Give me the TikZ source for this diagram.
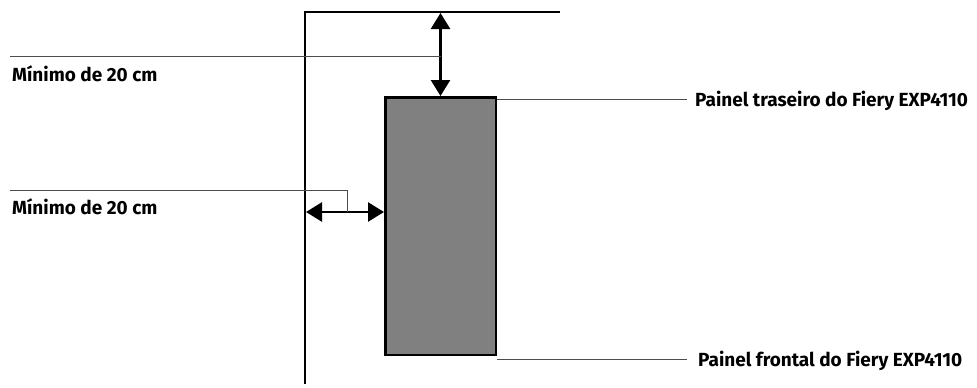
\documentclass[tikz,border=0pt]{standalone}
\usepackage{fontspec}
\setmainfont{Fira Sans}
\usetikzlibrary{arrows.meta}
\begin{document}
\begin{tikzpicture}[x=1pt,y=-1pt,
  wall/.style={line width=2.5pt},
  leader/.style={line width=1pt, draw=black!70},
  dim/.style={line width=2.5pt, {Triangle[length=16pt,width=19pt]}-{Triangle[length=16pt,width=19pt]}},
  lbl/.style={font=\bfseries\fontsize{19}{22}\selectfont, inner sep=0pt},
  unit/.style={draw=black, line width=2.5pt, fill=black!50, minimum width=110.5pt, minimum height=257.5pt, inner sep=0pt}]
\useasboundingbox (0,0) rectangle (977,388);
% wall
\coordinate (wb) at (305,384);
\coordinate (wc) at (305,12);
\coordinate (we) at (560,12);
\draw[wall] (wb) -- (wc) -- (we);
% unit
\node[unit] (box) at (440.5,226) {};
% top dimension
\coordinate (ttop) at (440.5,13);
\draw[dim] (ttop) -- (box.north);
% side dimension
\coordinate (sl) at (306,212);
\coordinate (sr) at (box.west |- sl);
\draw[dim] (sl) -- (sr);
% labels
\node[lbl, anchor=base west] (m1) at (12,81) {Mínimo de 20 cm};
\node[lbl, anchor=base west] (m2) at (12,214) {Mínimo de 20 cm};
\node[lbl, anchor=base west] (rear) at (695,106) {Painel traseiro do Fiery EXP4110};
\node[lbl, anchor=base west] (front) at (698,366) {Painel frontal do Fiery EXP4110};
% leaders
\coordinate (l1a) at (10,56);
\coordinate (l1b) at (440.5,56);
\draw[leader] (l1a) -- (l1b);
\coordinate (l2a) at (10,190);
\coordinate (l2b) at (347,190);
\coordinate (l2c) at (347,212);
\draw[leader] (l2a) -- (l2b) -- (l2c);
\coordinate (t1) at (497,99);
\coordinate (r1) at (687,99);
\coordinate (b1) at (497,359);
\coordinate (r2) at (687,359);
\draw[leader] (t1) -- (r1);
\draw[leader] (b1) -- (r2);
\end{tikzpicture}
\end{document}
